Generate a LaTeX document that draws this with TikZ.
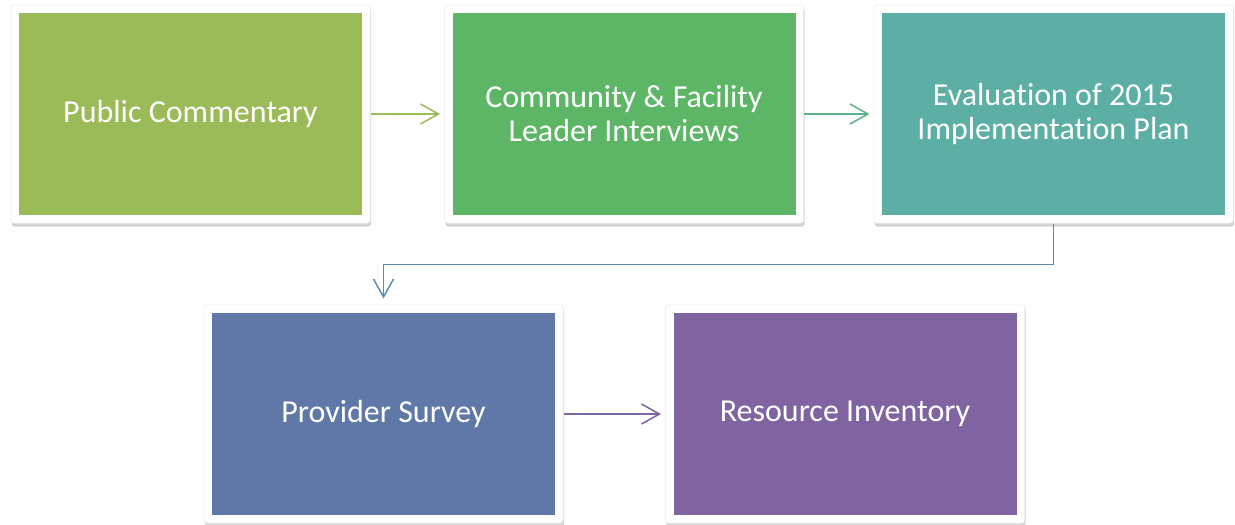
\documentclass[tikz,border=0pt]{standalone}
\usepackage{fontspec}
\setmainfont[RawFeature={-liga;-clig;-calt;-dlig}]{Carlito}
\usetikzlibrary{arrows.meta,shadows,fit,backgrounds}
\definecolor{stageA}{HTML}{9BBB59}
\definecolor{stageB}{HTML}{5CB666}
\definecolor{stageC}{HTML}{5DAFA6}
\definecolor{stageD}{HTML}{6078A8}
\definecolor{stageE}{HTML}{8064A2}
\definecolor{linkB}{HTML}{5DB388}
\definecolor{linkC}{HTML}{5A8BB0}
\begin{document}
\begin{tikzpicture}[x=1pt,y=-1pt]
\tikzstyle{stage}=[minimum width=343pt, minimum height=202pt, inner sep=0pt, text=white, align=center, font=\fontsize{32}{34}\selectfont]
\tikzstyle{frame}=[fill=white, draw=black!8, line width=0.6pt, rounded corners=3pt, inner sep=8pt, drop shadow={shadow xshift=1pt, shadow yshift=-3.5pt, opacity=0.35}]
\tikzstyle{link}=[line width=1.5pt, -{Straight Barb[length=18pt,width=20pt]}, shorten >=4pt]
\useasboundingbox (0,0) rectangle (1235,525);
% stages
\node [stage, fill=stageA] (pub) at (190.5,114) {Public Commentary};
\node [stage, fill=stageB] (cfl) at (624,114) {Community \& Facility\\Leader Interviews};
\node [stage, fill=stageC] (eval) at (1053.5,114) {Evaluation of 2015\\Implementation Plan};
\node [stage, fill=stageD] (prov) at (383.5,414) {Provider Survey};
\node [stage, fill=stageE] (res) at (845,414) {Resource Inventory};
% white frames
\begin{scope}[on background layer]
\node [frame, fit=(pub)] (fpub) {};
\node [frame, fit=(cfl)] (fcfl) {};
\node [frame, fit=(eval)] (feval) {};
\node [frame, fit=(prov)] (fprov) {};
\node [frame, fit=(res)] (fres) {};
\end{scope}
% links
\draw [link, stageA] (fpub) -- (fcfl);
\draw [link, linkB] (fcfl) -- (feval);
\draw [link, linkC, shorten >=6pt] (feval.south) -- ++(0,41) -| (fprov.north);
\draw [link, stageE] (fprov) -- (fres);
\end{tikzpicture}
\end{document}
